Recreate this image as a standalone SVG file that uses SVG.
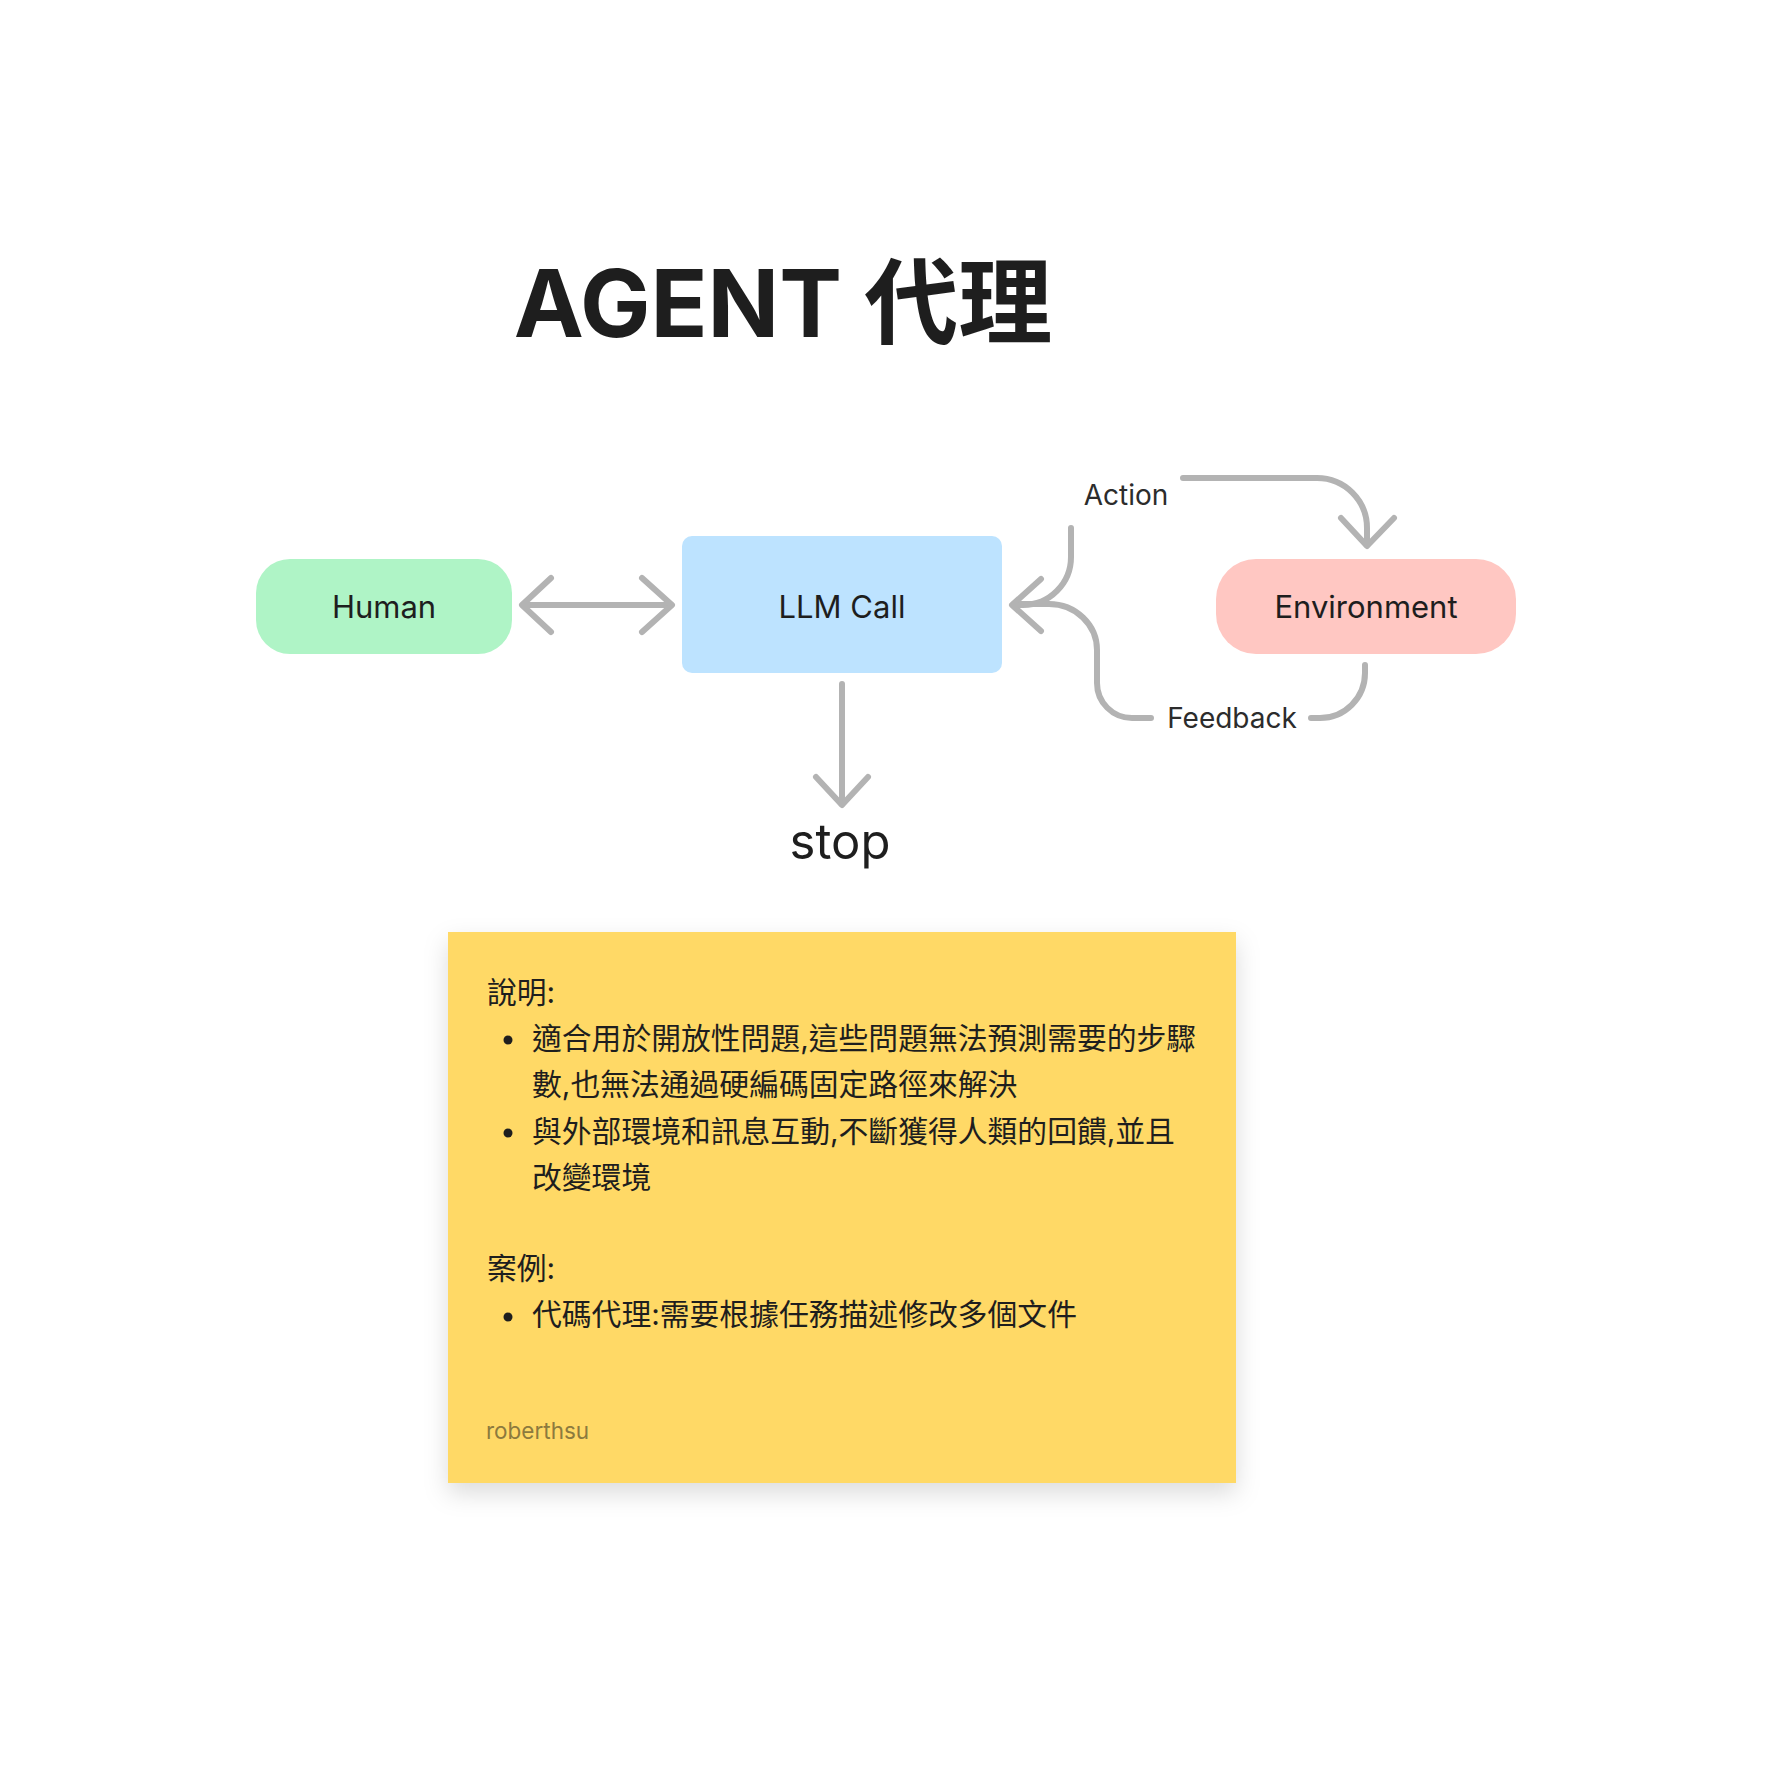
<svg xmlns="http://www.w3.org/2000/svg" width="1772" height="1776" viewBox="0 0 1772 1776">
<style>
  text { font-family: Inter, "Noto Sans CJK TC", sans-serif; fill: #1E1E1E; }
  .title { font-size: 94px; font-weight: 700; }
  .node { font-size: 31px; text-anchor: middle; }
  .lbl { font-size: 28px; text-anchor: middle; fill: #2C2C2C; }
  .stop { font-size: 49px; text-anchor: middle; }
  .note { font-size: 29.8px; }
  .author { font-size: 22.5px; fill: #8C7A3E; }
  .conn path { fill: none; stroke: #B3B3B3; stroke-width: 6; stroke-linecap: round; stroke-linejoin: round; }
</style>
<defs>
  <filter id="shadow" x="-10%" y="-10%" width="120%" height="130%">
    <feDropShadow dx="0" dy="10" stdDeviation="12" flood-color="#000" flood-opacity="0.14"/>
  </filter>
</defs>
<rect width="1772" height="1776" fill="#FFFFFF"/>

<g id="title">
  <text class="title" x="783" y="337" text-anchor="middle">AGENT 代理</text>
</g>

<g id="human">
  <rect x="256" y="559" width="256" height="95" rx="34" fill="#AFF4C6"/>
  <text class="node" x="384" y="618">Human</text>
</g>

<g id="llm-call">
  <rect x="682" y="536" width="320" height="137" rx="10" fill="#BDE3FF"/>
  <text class="node" x="842" y="618">LLM Call</text>
</g>

<g id="environment">
  <rect x="1216" y="559" width="300" height="95" rx="40" fill="#FFC7C2"/>
  <text class="node" x="1366" y="618">Environment</text>
</g>

<g id="stop">
  <text class="stop" x="840" y="859">stop</text>
</g>

<g id="connectors" class="conn">
  <!-- Human <-> LLM Call -->
  <path d="M523 605 H671"/>
  <path d="M551 578 L522 605 L551 632"/>
  <path d="M642 578 L672 605 L642 632"/>
  <!-- LLM Call -> stop -->
  <path d="M842 684 V804"/>
  <path d="M816 777 L842 805 L868 777"/>
  <!-- Action: LLM Call -> Environment -->
  <path d="M1071 528 V557 A48 48 0 0 1 1023 605 H1014"/>
  <path d="M1183 478 H1317 A50 50 0 0 1 1367 528 V545"/>
  <path d="M1341 518 L1367 546 L1394 518"/>
  <!-- Feedback: Environment -> LLM Call -->
  <path d="M1365 665 V673 A45 45 0 0 1 1320 718 H1311"/>
  <path d="M1151 718 H1132 A35 35 0 0 1 1097 683 V650 A48 46 0 0 0 1049 604 H1014"/>
  <path d="M1041 579 L1012 605 L1041 631"/>
</g>

<g id="connector-labels">
  <text class="lbl" x="1126" y="505">Action</text>
  <text class="lbl" x="1232" y="728">Feedback</text>
</g>

<g id="sticky-note">
  <rect x="448" y="932" width="788" height="551" fill="#FFD966" filter="url(#shadow)"/>
  <text class="note" x="487" y="1003">說明:</text>
  <circle cx="508" cy="1040" r="4.5" fill="#1E1E1E"/>
  <text class="note" x="532" y="1049">適合用於開放性問題,這些問題無法預測需要的步驟</text>
  <text class="note" x="532" y="1095">數,也無法通過硬編碼固定路徑來解決</text>
  <circle cx="508" cy="1133" r="4.5" fill="#1E1E1E"/>
  <text class="note" x="532" y="1142">與外部環境和訊息互動,不斷獲得人類的回饋,並且</text>
  <text class="note" x="532" y="1188">改變環境</text>
  <text class="note" x="487" y="1279">案例:</text>
  <circle cx="508" cy="1317" r="4.5" fill="#1E1E1E"/>
  <text class="note" x="532" y="1325">代碼代理:需要根據任務描述修改多個文件</text>
  <text class="author" x="486" y="1439">roberthsu</text>
</g>
</svg>
